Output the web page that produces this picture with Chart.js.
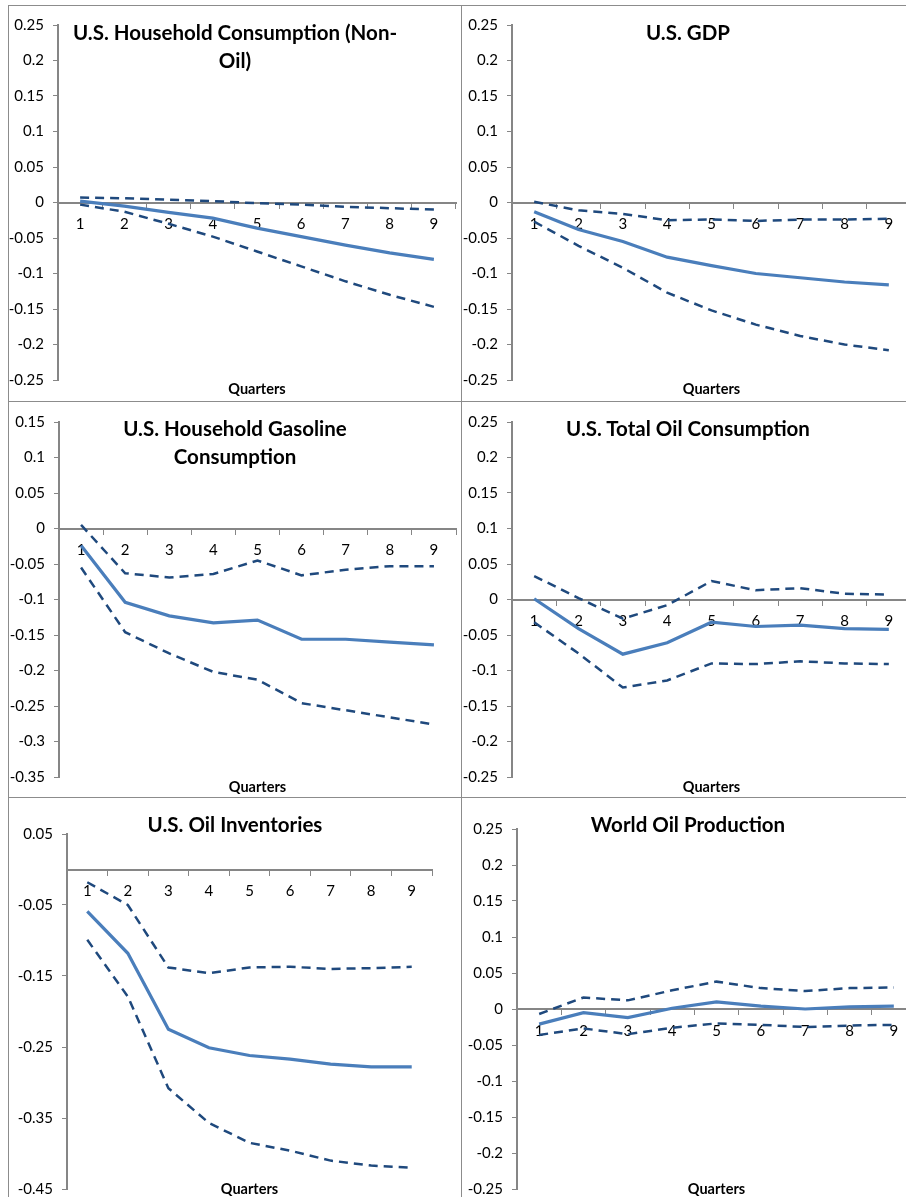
<!DOCTYPE html>
<html>
<head>
<meta charset="utf-8">
<script src="https://cdn.jsdelivr.net/npm/chart.js@4.4.1/dist/chart.umd.min.js"></script>
<style>
  html, body { margin: 0; padding: 0; background: #fff; overflow: hidden; width: 906px; height: 1197px; }
  .cell { position: absolute; border-left: 1px solid #8c8c8c; border-top: 1px solid #8c8c8c; box-sizing: border-box; }
  canvas { position: absolute; }
  .title { position: absolute; font: bold 20.5px Lato, sans-serif; line-height: 28px; text-align: center; color: #000; transform: translateX(-50%); white-space: nowrap; }
  .xlab { position: absolute; font: bold 14.5px Lato, sans-serif; color: #000; transform: translate(-50%, -50%); white-space: nowrap; }
</style>
</head>
<body>
<div id="page"></div>
<script>
// categories
const quarters = ['1', '2', '3', '4', '5', '6', '7', '8', '9'];

// y tick values
const ticksWide = [-0.25, -0.2, -0.15, -0.1, -0.05, 0, 0.05, 0.1, 0.15, 0.2, 0.25];
const ticksGasoline = [-0.35, -0.3, -0.25, -0.2, -0.15, -0.1, -0.05, 0, 0.05, 0.1, 0.15];
const ticksInventories = [-0.45, -0.35, -0.25, -0.15, -0.05, 0.05];

// U.S. Household Consumption (Non-Oil)
const consMid = [0.002, -0.005, -0.014, -0.022, -0.036, -0.048, -0.060, -0.071, -0.080];
const consHigh = [0.007, 0.006, 0.004, 0.002, -0.001, -0.003, -0.006, -0.008, -0.010];
const consLow = [-0.003, -0.013, -0.030, -0.048, -0.069, -0.090, -0.111, -0.130, -0.147];

// U.S. GDP
const gdpMid = [-0.013, -0.038, -0.055, -0.077, -0.089, -0.100, -0.106, -0.112, -0.116];
const gdpHigh = [0.001, -0.011, -0.016, -0.025, -0.024, -0.026, -0.024, -0.024, -0.023];
const gdpLow = [-0.027, -0.061, -0.092, -0.127, -0.152, -0.172, -0.188, -0.200, -0.208];

// U.S. Household Gasoline Consumption
const gasMid = [-0.024, -0.104, -0.123, -0.133, -0.129, -0.156, -0.156, -0.160, -0.164];
const gasHigh = [0.005, -0.063, -0.069, -0.064, -0.045, -0.066, -0.058, -0.053, -0.053];
const gasLow = [-0.055, -0.146, -0.176, -0.202, -0.213, -0.246, -0.256, -0.266, -0.276];

// U.S. Total Oil Consumption
const oilMid = [0.001, -0.041, -0.077, -0.061, -0.032, -0.038, -0.036, -0.041, -0.042];
const oilHigh = [0.033, 0.002, -0.027, -0.008, 0.026, 0.013, 0.016, 0.008, 0.007];
const oilLow = [-0.032, -0.076, -0.124, -0.114, -0.090, -0.091, -0.087, -0.090, -0.091];

// U.S. Oil Inventories
const invMid = [-0.059, -0.118, -0.225, -0.251, -0.262, -0.267, -0.274, -0.278, -0.278];
const invHigh = [-0.018, -0.050, -0.138, -0.146, -0.138, -0.137, -0.140, -0.139, -0.137];
const invLow = [-0.099, -0.179, -0.308, -0.357, -0.385, -0.396, -0.410, -0.417, -0.420];

// World Oil Production
const worldMid = [-0.021, -0.005, -0.012, 0.001, 0.010, 0.004, 0.000, 0.003, 0.004];
const worldHigh = [-0.007, 0.016, 0.012, 0.026, 0.038, 0.029, 0.025, 0.029, 0.030];
const worldLow = [-0.036, -0.027, -0.035, -0.026, -0.020, -0.022, -0.025, -0.023, -0.022];

const axisGray = '#868686';
const midColor = '#4A7EBB';
const bandColor = '#1F497D';

Chart.defaults.font.family = 'Lato, sans-serif';
Chart.defaults.font.size = 15;
Chart.defaults.color = '#000';

const panels = [
    {title: ['U.S. Household Consumption (Non-', 'Oil)'], mid: consMid, high: consHigh, low: consLow, ticks: ticksWide,
        cell: {x: 8, y: 5, w: 454, h: 397}, canvas: {x: 9, y: 6, w: 452, h: 396},
        area: {left: 58, top: 25, bottom: 380, right: 456}, titleX: 235, titleY: 18, xlabY: 388},
    {title: ['U.S. GDP'], mid: gdpMid, high: gdpHigh, low: gdpLow, ticks: ticksWide,
        cell: {x: 461, y: 5, w: 460, h: 397}, canvas: {x: 462, y: 6, w: 460, h: 396},
        area: {left: 512, top: 25, bottom: 380, right: 911}, titleX: 688, titleY: 18, xlabY: 388},
    {title: ['U.S. Household Gasoline', 'Consumption'], mid: gasMid, high: gasHigh, low: gasLow, ticks: ticksGasoline,
        cell: {x: 8, y: 401, w: 454, h: 397}, canvas: {x: 9, y: 402, w: 452, h: 396},
        area: {left: 59, top: 422, bottom: 777, right: 456}, titleX: 235, titleY: 414, xlabY: 786},
    {title: ['U.S. Total Oil Consumption'], mid: oilMid, high: oilHigh, low: oilLow, ticks: ticksWide,
        cell: {x: 461, y: 401, w: 460, h: 397}, canvas: {x: 462, y: 402, w: 460, h: 396},
        area: {left: 512, top: 422, bottom: 777, right: 911}, titleX: 688, titleY: 414, xlabY: 786},
    {title: ['U.S. Oil Inventories'], mid: invMid, high: invHigh, low: invLow, ticks: ticksInventories,
        cell: {x: 8, y: 797, w: 454, h: 420}, canvas: {x: 9, y: 798, w: 452, h: 410},
        area: {left: 67, top: 834, bottom: 1189, right: 432}, titleX: 235, titleY: 810, xlabY: 1188},
    {title: ['World Oil Production'], mid: worldMid, high: worldHigh, low: worldLow, ticks: ticksWide,
        cell: {x: 461, y: 797, w: 460, h: 420}, canvas: {x: 462, y: 798, w: 460, h: 410},
        area: {left: 517, top: 829, bottom: 1189, right: 916}, titleX: 688, titleY: 810, xlabY: 1188}
];

const page = document.getElementById('page');

panels.forEach(p => {
    const cell = document.createElement('div');
    cell.className = 'cell';
    Object.assign(cell.style, {left: p.cell.x + 'px', top: p.cell.y + 'px', width: p.cell.w + 'px', height: p.cell.h + 'px'});
    page.appendChild(cell);

    const canvas = document.createElement('canvas');
    canvas.width = p.canvas.w;
    canvas.height = p.canvas.h;
    canvas.style.left = p.canvas.x + 'px';
    canvas.style.top = p.canvas.y + 'px';
    page.appendChild(canvas);

    const yWidth = p.area.left - p.canvas.x;
    const bandLine = {borderColor: bandColor, borderWidth: 2.5, borderDash: [9, 6], pointRadius: 0, tension: 0, fill: false};

    new Chart(canvas.getContext('2d'), {
        type: 'line',
        data: {
            labels: quarters,
            datasets: [
                Object.assign({label: 'Upper', data: p.high}, bandLine),
                Object.assign({label: 'Lower', data: p.low}, bandLine),
                {label: 'Response', data: p.mid, borderColor: midColor, borderWidth: 3.2, pointRadius: 0, tension: 0, fill: false}
            ]
        },
        options: {
            responsive: false,
            animation: false,
            events: [],
            layout: {
                padding: {
                    left: 0,
                    top: p.area.top - p.canvas.y,
                    bottom: p.canvas.y + p.canvas.h - p.area.bottom,
                    right: p.canvas.x + p.canvas.w - p.area.right
                }
            },
            plugins: {legend: {display: false}, tooltip: {enabled: false}, title: {display: false}},
            scales: {
                x: {
                    position: {y: 0},
                    offset: true,
                    grid: {offset: true, drawOnChartArea: false, drawTicks: true, tickLength: 5, color: axisGray, lineWidth: 1},
                    border: {color: axisGray, width: 2},
                    ticks: {padding: 8, maxRotation: 0, autoSkip: false, color: '#000'}
                },
                y: {
                    position: 'left',
                    min: p.ticks[0],
                    max: p.ticks[p.ticks.length - 1],
                    afterBuildTicks: scale => { scale.ticks = p.ticks.map(v => ({value: v})); },
                    afterFit: scale => { scale.width = yWidth; },
                    grid: {drawOnChartArea: false, drawTicks: true, tickLength: 5, color: axisGray, lineWidth: 1},
                    border: {color: axisGray, width: 2},
                    ticks: {padding: 9, autoSkip: false, color: '#000', callback: v => String(Math.round(v * 100) / 100)}
                }
            }
        }
    });

    const title = document.createElement('div');
    title.className = 'title';
    title.innerHTML = p.title.join('<br>');
    title.style.left = p.titleX + 'px';
    title.style.top = p.titleY + 'px';
    page.appendChild(title);

    const xlab = document.createElement('div');
    xlab.className = 'xlab';
    xlab.textContent = 'Quarters';
    xlab.style.left = ((p.area.left + p.area.right) / 2) + 'px';
    xlab.style.top = p.xlabY + 'px';
    page.appendChild(xlab);
});
</script>
</body>
</html>
